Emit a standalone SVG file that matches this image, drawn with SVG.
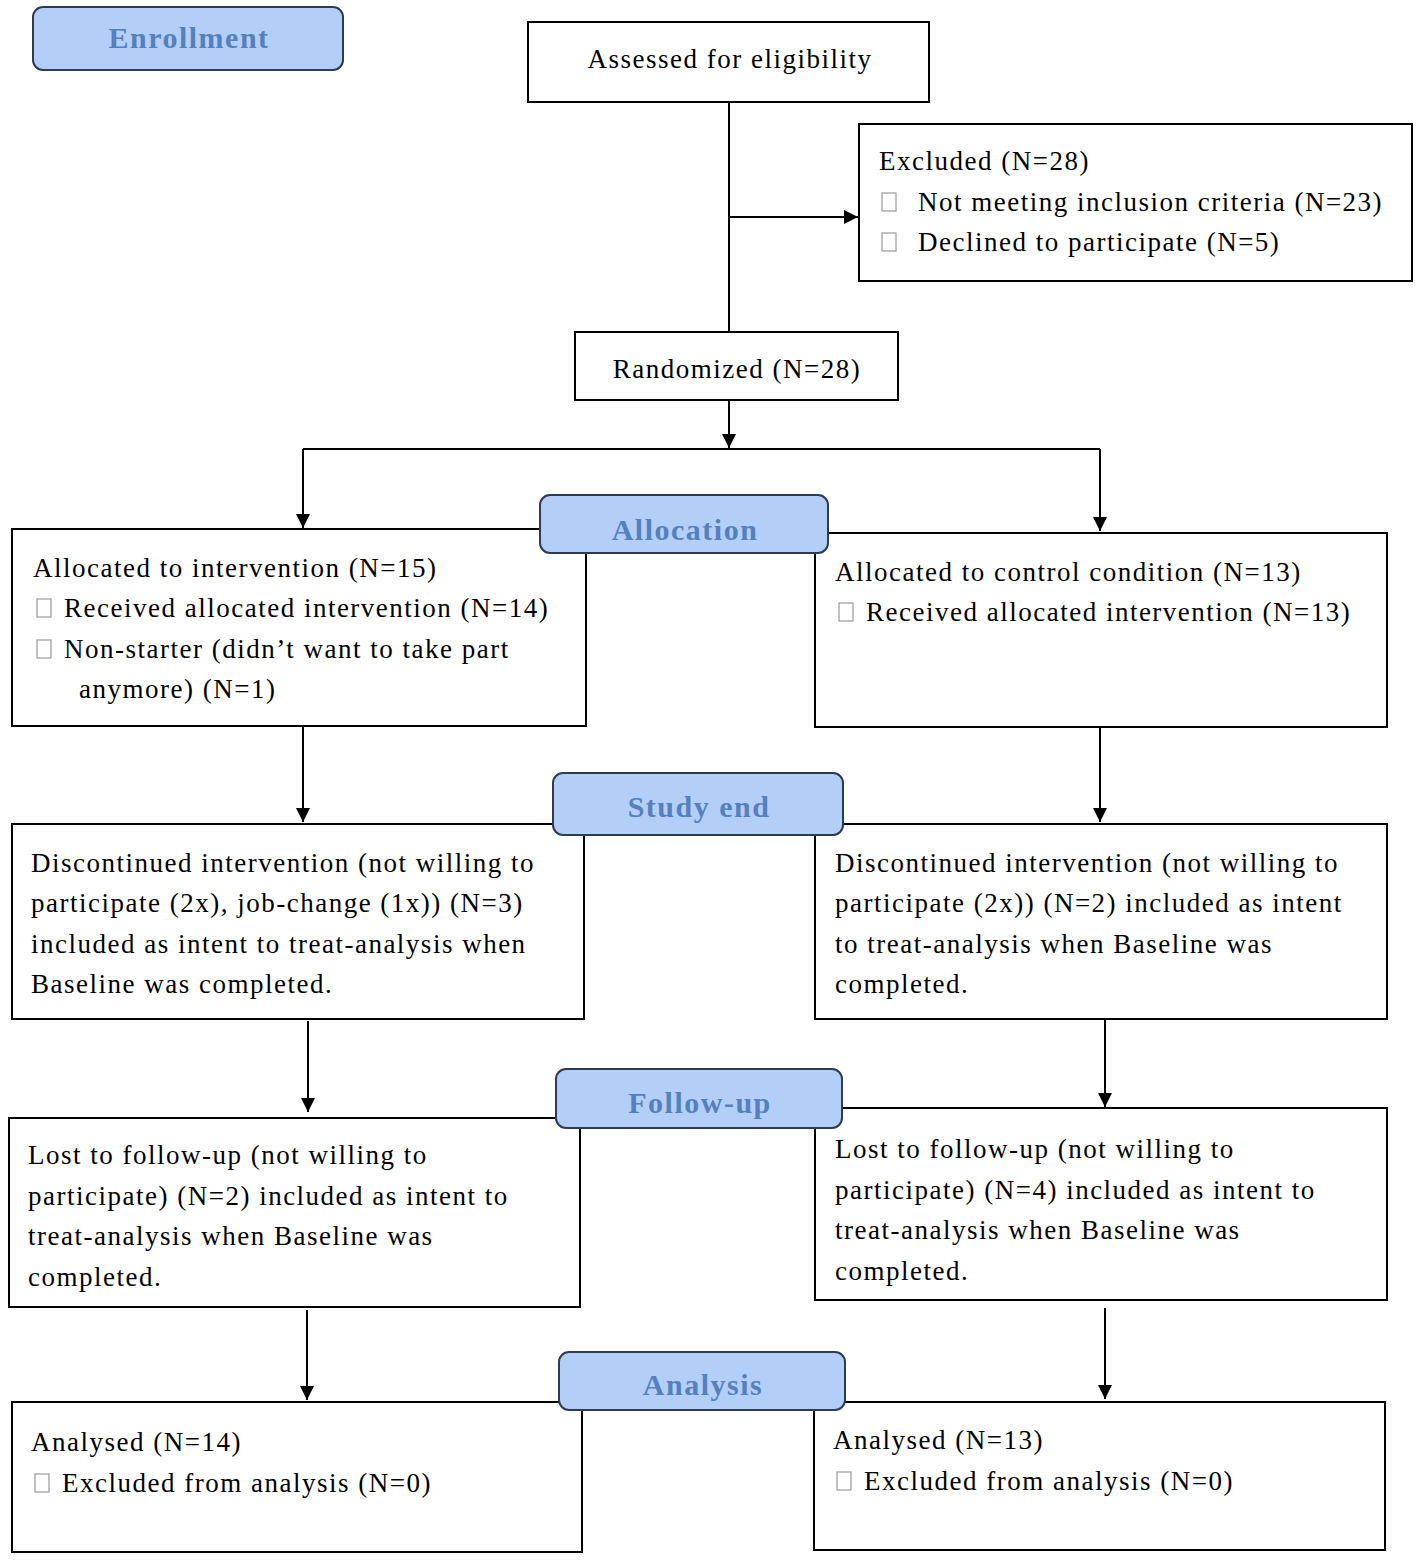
<svg xmlns="http://www.w3.org/2000/svg" width="1417" height="1563" viewBox="0 0 1417 1563">
<style>
.box{fill:#fff;stroke:#000;stroke-width:2}
.lab{fill:#b3cff8;stroke:#2e3b55;stroke-width:2}
.lt{font-family:"Liberation Serif","Times New Roman",serif;font-size:30px;font-weight:bold;fill:#5580bd;text-anchor:middle;letter-spacing:1.5px}
.t{font-family:"Liberation Serif","Times New Roman",serif;font-size:27px;fill:#000;letter-spacing:1.5px}
.c{text-anchor:middle}
.bul{fill:#fff;stroke:#9a9a9a;stroke-width:1.2}
.ln{fill:none;stroke:#000;stroke-width:2}
</style>
<defs>
<marker id="a" viewBox="0 0 12 12" refX="12" refY="6" markerWidth="14" markerHeight="14" markerUnits="userSpaceOnUse" orient="auto">
<path d="M0,0 L12,6 L0,12 z" fill="#000"/>
</marker>
</defs>
<g id="connectors">
<path class="ln" d="M729,102 V331"/>
<path class="ln" d="M729,217 H858" marker-end="url(#a)"/>
<path class="ln" d="M729,400 V448" marker-end="url(#a)"/>
<path class="ln" d="M303,449 H1100"/>
<path class="ln" d="M303,449 V528" marker-end="url(#a)"/>
<path class="ln" d="M1100,449 V531" marker-end="url(#a)"/>
<path class="ln" d="M303,726 V822" marker-end="url(#a)"/>
<path class="ln" d="M1100,727 V822" marker-end="url(#a)"/>
<path class="ln" d="M308,1021 V1112" marker-end="url(#a)"/>
<path class="ln" d="M1105,1019 V1107" marker-end="url(#a)"/>
<path class="ln" d="M307,1310 V1400" marker-end="url(#a)"/>
<path class="ln" d="M1105,1308 V1399" marker-end="url(#a)"/>
</g>
<g id="enrollment">
<rect class="lab" x="33" y="7" width="310" height="63" rx="10"/>
<text class="lt" x="189" y="48">Enrollment</text>
</g>
<g id="assessed">
<rect class="box" x="528" y="22" width="401" height="80"/>
<text class="t c" x="730" y="68">Assessed for eligibility</text>
</g>
<g id="excluded">
<rect class="box" x="859" y="124" width="553" height="157"/>
<text class="t" x="879" y="170">Excluded (N=28)</text>
<rect class="bul" x="882" y="193" width="14" height="18"/>
<text class="t" x="918" y="211">Not meeting inclusion criteria (N=23)</text>
<rect class="bul" x="882" y="233" width="14" height="18"/>
<text class="t" x="918" y="251">Declined to participate (N=5)</text>
</g>
<g id="randomized">
<rect class="box" x="575" y="332" width="323" height="68"/>
<text class="t c" x="737" y="378">Randomized (N=28)</text>
</g>
<g id="alloc-left">
<rect class="box" x="12" y="529" width="574" height="197"/>
<text class="t" x="33" y="577">Allocated to intervention (N=15)</text>
<rect class="bul" x="37" y="599" width="14" height="18"/>
<text class="t" x="64" y="617">Received allocated intervention (N=14)</text>
<rect class="bul" x="37" y="640" width="14" height="18"/>
<text class="t" x="64" y="658">Non-starter (didn’t want to take part</text>
<text class="t" x="79" y="698">anymore) (N=1)</text>
</g>
<g id="alloc-right">
<rect class="box" x="815" y="533" width="572" height="194"/>
<text class="t" x="835" y="581">Allocated to control condition (N=13)</text>
<rect class="bul" x="839" y="603" width="14" height="18"/>
<text class="t" x="866" y="621">Received allocated intervention (N=13)</text>
</g>
<g id="allocation">
<rect class="lab" x="540" y="495" width="288" height="58" rx="10"/>
<text class="lt" x="685" y="540">Allocation</text>
</g>
<g id="study-left">
<rect class="box" x="12" y="824" width="572" height="195"/>
<text class="t" x="31" y="872">Discontinued intervention (not willing to</text>
<text class="t" x="31" y="912">participate (2x), job-change (1x)) (N=3)</text>
<text class="t" x="31" y="953">included as intent to treat-analysis when</text>
<text class="t" x="31" y="993">Baseline was completed.</text>
</g>
<g id="study-right">
<rect class="box" x="815" y="824" width="572" height="195"/>
<text class="t" x="835" y="872">Discontinued intervention (not willing to</text>
<text class="t" x="835" y="912">participate (2x)) (N=2) included as intent</text>
<text class="t" x="835" y="953">to treat-analysis when Baseline was</text>
<text class="t" x="835" y="993">completed.</text>
</g>
<g id="study-end">
<rect class="lab" x="553" y="773" width="290" height="62" rx="10"/>
<text class="lt" x="699" y="817">Study end</text>
</g>
<g id="follow-left">
<rect class="box" x="9" y="1118" width="571" height="189"/>
<text class="t" x="28" y="1164">Lost to follow-up (not willing to</text>
<text class="t" x="28" y="1205">participate) (N=2) included as intent to</text>
<text class="t" x="28" y="1245">treat-analysis when Baseline was</text>
<text class="t" x="28" y="1286">completed.</text>
</g>
<g id="follow-right">
<rect class="box" x="815" y="1108" width="572" height="192"/>
<text class="t" x="835" y="1158">Lost to follow-up (not willing to</text>
<text class="t" x="835" y="1199">participate) (N=4) included as intent to</text>
<text class="t" x="835" y="1239">treat-analysis when Baseline was</text>
<text class="t" x="835" y="1280">completed.</text>
</g>
<g id="follow-up">
<rect class="lab" x="556" y="1069" width="286" height="59" rx="10"/>
<text class="lt" x="700" y="1113">Follow-up</text>
</g>
<g id="analysis-left">
<rect class="box" x="12" y="1402" width="570" height="150"/>
<text class="t" x="31" y="1451">Analysed (N=14)</text>
<rect class="bul" x="35" y="1474" width="14" height="18"/>
<text class="t" x="62" y="1492">Excluded from analysis (N=0)</text>
</g>
<g id="analysis-right">
<rect class="box" x="814" y="1402" width="571" height="148"/>
<text class="t" x="833" y="1449">Analysed (N=13)</text>
<rect class="bul" x="837" y="1472" width="14" height="18"/>
<text class="t" x="864" y="1490">Excluded from analysis (N=0)</text>
</g>
<g id="analysis">
<rect class="lab" x="559" y="1352" width="286" height="58" rx="10"/>
<text class="lt" x="703" y="1395">Analysis</text>
</g>
</svg>
